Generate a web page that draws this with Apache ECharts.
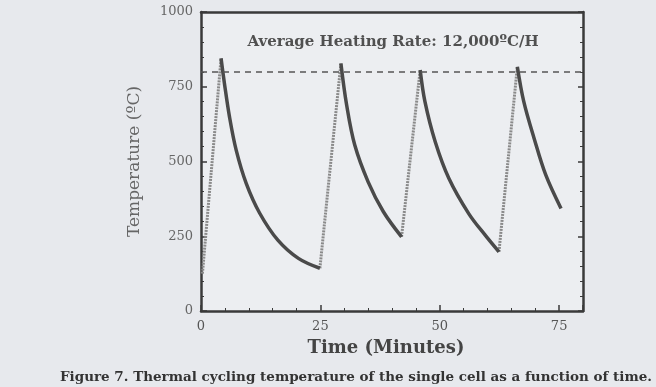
<!DOCTYPE html>
<html>
<head>
<meta charset="utf-8">
<script src="https://cdn.jsdelivr.net/npm/echarts@6/dist/echarts.min.js"></script>
<style>
  html, body { margin: 0; padding: 0; background: #e7e9ed; }
  #chart { width: 656px; height: 387px; }
</style>
</head>
<body>
<div id="chart"></div>
<script>
// cooling segments (solid dark) and heating ramps (lighter, dotted), [minutes, degC]
const cooling1 = [[4.2, 845], [4.9, 762], [5.96, 650], [7.37, 538], [9.47, 427], [12.3, 327], [16.1, 237], [20.4, 176], [24.9, 143]];
const cooling2 = [[29.3, 828], [30.5, 689], [32.2, 555], [35.0, 432], [38.2, 332], [42.0, 248]];
const cooling3 = [[45.9, 806], [46.9, 700], [49.05, 566], [51.9, 444], [56.1, 325], [59.6, 252], [62.4, 198]];
const cooling4 = [[66.25, 817], [67.6, 700], [69.75, 578], [72.2, 455], [75.4, 343]];
const heating = [
  [0.3, 125], [4.2, 845], null,
  [24.9, 143], [29.3, 828], null,
  [42.0, 248], [45.9, 806], null,
  [62.4, 198], [66.25, 817]
];
const targetTemp = 800;
const xTicks = [0, 25, 50, 75];
const yTicks = [0, 250, 500, 750, 1000];

const serif = "'DejaVu Serif', 'Liberation Serif', serif";
const ink = "#3a3a3a";

const chart = echarts.init(document.getElementById("chart"));

const coolingSeries = [cooling1, cooling2, cooling3, cooling4].map((d) => ({
  type: "line",
  data: d,
  smooth: 0.35,
  symbol: "none",
  lineStyle: { color: "#4a4a4a", width: 3.5 },
  z: 3,
}));

chart.setOption({
  animation: false,
  backgroundColor: "#e7e9ed",
  grid: { left: 201, right: 73, top: 12, bottom: 76, show: true, backgroundColor: "#eceef1", borderWidth: 0 },
  title: [
    {
      text: "Average Heating Rate: 12,000ºC/H",
      left: 388, top: 30, textAlign: "center",
      textStyle: { fontFamily: serif, fontSize: 15, fontWeight: "bold", color: "#505050" },
    },
    {
      text: "Figure 7. Thermal cycling temperature of the single cell as a function of time.",
      left: 351, top: 365, textAlign: "center",
      textStyle: { fontFamily: serif, fontSize: 13.5, fontWeight: "bold", color: "#333" },
    },
  ],
  xAxis: [
    {
      type: "value", min: 0, max: 80, interval: 25,
      name: "Time (Minutes)", nameLocation: "middle", nameGap: 28,
      nameTextStyle: { fontFamily: serif, fontSize: 18, fontWeight: "bold", color: "#444", padding: [0, 12, 0, 0] },
      axisLine: { lineStyle: { color: ink, width: 2.5 } },
      axisTick: { inside: true, length: 6, lineStyle: { color: ink, width: 1.5 } },
      minorTick: { show: true, splitNumber: 5, length: 3, lineStyle: { color: ink } },
      splitLine: { show: false },
      axisLabel: {
        fontFamily: serif, fontSize: 13, color: "#555", margin: 9,
        customValues: xTicks,
      },
    },
    {
      type: "value", min: 0, max: 80, position: "top",
      axisLine: { show: true, onZero: false, lineStyle: { color: ink, width: 2.5 } },
      axisTick: { show: false }, axisLabel: { show: false }, splitLine: { show: false },
    },
  ],
  yAxis: [
    {
      type: "value", min: 0, max: 1000, interval: 250,
      name: "Temperature (ºC)", nameLocation: "middle", nameGap: 58,
      nameTextStyle: { fontFamily: serif, fontSize: 17, color: "#666" },
      axisLine: { show: true, lineStyle: { color: ink, width: 2.5 } },
      axisTick: { inside: true, length: 6, lineStyle: { color: ink, width: 1.5 } },
      minorTick: { show: true, splitNumber: 5, length: 3, lineStyle: { color: ink } },
      splitLine: { show: false },
      axisLabel: {
        fontFamily: serif, fontSize: 13, color: "#666", margin: 8,
        customValues: yTicks,
        formatter: (v) => String(v),
      },
    },
    {
      type: "value", min: 0, max: 1000, interval: 250, position: "right",
      axisLine: { show: true, onZero: false, lineStyle: { color: ink, width: 2.5 } },
      axisTick: { inside: true, length: 5, lineStyle: { color: ink, width: 1.5 } },
      minorTick: { show: true, splitNumber: 5, length: 3, lineStyle: { color: ink } },
      axisLabel: { show: false }, splitLine: { show: false },
    },
  ],
  series: [
    {
      type: "line",
      data: heating,
      symbol: "none",
      connectNulls: false,
      lineStyle: { color: "#8a8a8a", width: 3, type: [2, 1] },
      z: 2,
      markLine: {
        silent: true,
        symbol: "none",
        label: { show: false },
        lineStyle: { color: "#555", width: 1.5, type: [6, 5] },
        data: [{ yAxis: targetTemp }],
      },
    },
    ...coolingSeries,
  ],
});
</script>
</body>
</html>
